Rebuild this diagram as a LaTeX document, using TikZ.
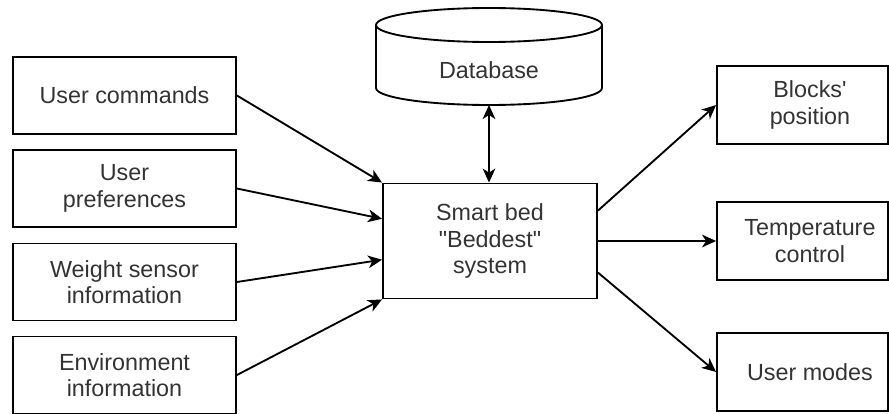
\documentclass[tikz,border=0pt]{standalone}
\usepackage{fontspec}
\setmainfont{Liberation Sans}[Ligatures=TeXOff]
\usetikzlibrary{arrows.meta,calc}
\definecolor{txtgray}{HTML}{333333}
\tikzset{
  conn/.style={line width=1.4pt, -{Stealth[length=10.5pt,width=9.5pt,inset=3pt]}},
  dconn/.style={line width=1.4pt, {Stealth[length=10.5pt,width=9.5pt,inset=3pt]}-{Stealth[length=10.5pt,width=9.5pt,inset=3pt]}},
  txt/.style={text=txtgray, align=center, font=\fontsize{17.5}{20}\selectfont, inner sep=0pt},
  inbox/.style={draw, line width=1.4pt, minimum width=167.25pt, minimum height=57.75pt, txt},
  outbox/.style={draw, line width=1.4pt, minimum width=128.25pt, minimum height=58.5pt},
  corebox/.style={draw, line width=1.4pt, minimum width=160.5pt, minimum height=86.25pt, txt},
}
\begin{document}
\begin{tikzpicture}[x=0.75pt,y=-0.75pt]
\useasboundingbox (0,0) rectangle (889,414);

% inputs
\node[inbox] (uc) at (124.5,95.5) {User commands};
\node[inbox] (up) at (124.5,188.5) {User\\preferences};
\node[inbox] (ws) at (124.5,282) {Weight sensor\\information};
\node[inbox] (ei) at (124.5,375) {Environment\\information};

% central system
\node[corebox] (ctr) at (490,241) {Smart bed\\"Beddest"\\system};

% database cylinder
\draw[line width=1.4pt] (376,25) -- (376,88)
  arc[start angle=180, end angle=360, x radius=84.75pt, y radius=12.75pt] -- (602,25);
\draw[line width=1.4pt] (489,25) ellipse[x radius=84.75pt, y radius=12.75pt];
\node[txt] (db) at (489,70) {Database};
\coordinate (dbbot) at (489,105);

% outputs
\node[outbox, label={[txt,xshift=5.6pt]center:{Blocks'\\position}}] (blk) at (802.5,105) {};
\node[outbox, label={[txt,xshift=5.6pt]center:{Temperature\\control}}] (tmp) at (802.5,241) {};
\node[outbox, label={[txt,xshift=5.6pt]center:{User modes}}] (um) at (802.5,372) {};

% connectors
\draw[conn] (uc.east) -- (ctr.north west);
\draw[conn] (up.east) -- ($(ctr.north west)!0.31!(ctr.south west)$);
\draw[conn] (ws.east) -- ($(ctr.north west)!0.66!(ctr.south west)$);
\draw[conn] (ei.east) -- (ctr.south west);
\draw[dconn] (dbbot) -- (dbbot |- ctr.north);
\draw[conn] ($(ctr.north east)!0.24!(ctr.south east)$) -- (blk.west);
\draw[conn] (ctr.east) -- (tmp.west);
\draw[conn] ($(ctr.north east)!0.77!(ctr.south east)$) -- (um.west);
\end{tikzpicture}
\end{document}
